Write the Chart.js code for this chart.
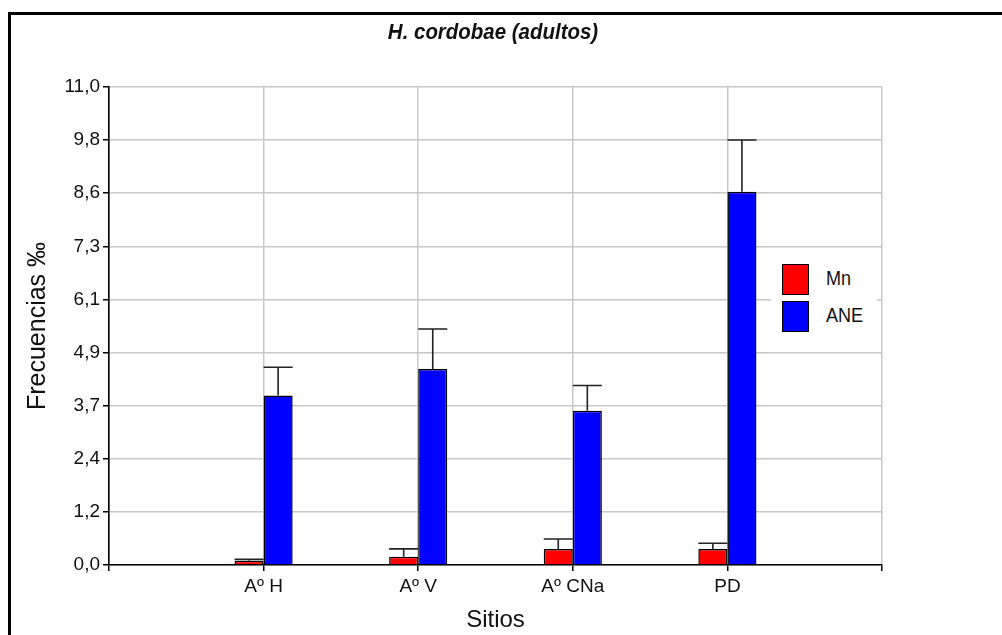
<!DOCTYPE html>
<html>
<head>
<meta charset="utf-8">
<script src="https://cdn.jsdelivr.net/npm/chart.js@4.4.0/dist/chart.umd.min.js"></script>
<style>
  html, body { margin: 0; padding: 0; background: #fff; overflow: hidden; }
  #wrap { position: relative; width: 1002px; height: 635px; overflow: hidden; font-family: 'Liberation Sans', Arial, sans-serif; color: #111; }
  #frame { position: absolute; left: 8px; top: 12px; width: 1100px; height: 700px; border: 3px solid #000; box-sizing: border-box; }
  canvas { position: absolute; left: 0; top: 0; }
  #title { position: absolute; left: 293px; width: 400px; top: 19px; text-align: center; font-size: 22px; font-weight: bold; font-style: italic; white-space: nowrap; transform: scaleX(0.93); transform-origin: 200px 0; }
  #legend { position: absolute; left: 771px; top: 254px; width: 106px; height: 86px; background: #fff; font-size: 21px; }
  .item { position: absolute; left: 11px; height: 30px; }
  .sw { position: absolute; left: 0; top: 0; width: 25px; height: 29px; border: 1px solid #000; }
  .lbl { position: absolute; left: 44px; top: 2px; white-space: nowrap; transform: scaleX(0.86); transform-origin: 0 0; }
</style>
</head>
<body>
<div id="wrap">
  <div id="frame"></div>
  <canvas id="c" width="1002" height="635"></canvas>
  <div id="title"></div>
  <div id="legend"></div>
</div>
<script>
// ---- data ----
const chartTitle = 'H. cordobae (adultos)';
const categories = ['', 'Aº H', 'Aº V', 'Aº CNa', 'PD', ''];
const seriesNames = ['Mn', 'ANE'];
const mnValues  = [null, 0.10, 0.19, 0.37, 0.37, null];
const mnErrors  = [null, 0.03, 0.18, 0.23, 0.13, null];
const aneValues = [null, 3.90, 4.51, 3.55, 8.59, null];
const aneErrors = [null, 0.65, 0.92, 0.58, 1.19, null];
const yTickLabels = ['0,0', '1,2', '2,4', '3,7', '4,9', '6,1', '7,3', '8,6', '9,8', '11,0'];
const yMax = 11;
const seriesColors = ['#ff0000', '#0000ff'];

Chart.defaults.font.family = "'Liberation Sans', Arial, sans-serif";
Chart.defaults.color = '#111';

const errorSets = [mnErrors, aneErrors];
const errorBars = {
  id: 'errorBars',
  afterDatasetsDraw(chart) {
    const ctx = chart.ctx;
    const y = chart.scales.y;
    ctx.save();
    ctx.strokeStyle = '#222';
    ctx.lineWidth = 1.6;
    chart.data.datasets.forEach((ds, i) => {
      const meta = chart.getDatasetMeta(i);
      meta.data.forEach((bar, j) => {
        const v = ds.data[j];
        const e = errorSets[i][j];
        if (v == null || e == null) return;
        const yTop = y.getPixelForValue(v + e);
        const half = bar.width / 2;
        ctx.beginPath();
        ctx.moveTo(bar.x, bar.y);
        ctx.lineTo(bar.x, yTop);
        ctx.moveTo(bar.x - half, yTop);
        ctx.lineTo(bar.x + half, yTop);
        ctx.stroke();
      });
    });
    ctx.restore();
  }
};

new Chart(document.getElementById('c'), {
  type: 'bar',
  data: {
    labels: categories,
    datasets: [
      { label: seriesNames[0], data: mnValues, backgroundColor: seriesColors[0], borderColor: '#000', borderWidth: 1.5 },
      { label: seriesNames[1], data: aneValues, backgroundColor: seriesColors[1], borderColor: '#000', borderWidth: 1.5 }
    ]
  },
  options: {
    responsive: false,
    animation: false,
    events: [],
    categoryPercentage: 0.376,
    barPercentage: 1.0,
    layout: { padding: { left: 23, right: 120, top: 87, bottom: 0 } },
    plugins: {
      legend: { display: false },
      tooltip: { enabled: false },
      title: { display: false }
    },
    scales: {
      x: {
        offset: false,
        grid: { offset: false, color: '#c8c8c8', lineWidth: 1.5, tickColor: '#000', tickLength: 6, drawTicks: true },
        border: { color: '#000', width: 1.6 },
        ticks: { font: { size: 19 }, color: '#111', padding: 4, maxRotation: 0, autoSkip: false },
        title: { display: true, text: 'Sitios', font: { size: 24 }, color: '#111', padding: { top: 0, bottom: 0 } },
        afterFit(s) { s.height = 70; }
      },
      y: {
        min: 0, max: yMax,
        afterBuildTicks(s) {
          s.ticks = yTickLabels.map((_, i) => ({ value: i * yMax / (yTickLabels.length - 1) }));
        },
        ticks: {
          font: { size: 19 }, color: '#111', padding: 3,
          callback(v, i) { return yTickLabels[i]; }
        },
        grid: { color: '#c8c8c8', lineWidth: 1.5, tickColor: '#000', tickLength: 6 },
        border: { color: '#000', width: 1.6 },
        title: { display: true, text: 'Frecuencias ‰', font: { size: 25 }, color: '#111', padding: 0 },
        afterFit(s) { s.width = 86; }
      }
    }
  },
  plugins: [errorBars]
});

document.getElementById('title').textContent = chartTitle;
const leg = document.getElementById('legend');
seriesNames.forEach((n, i) => {
  const it = document.createElement('div');
  it.className = 'item';
  it.style.top = (10 + i * 37) + 'px';
  it.innerHTML = '<div class="sw" style="background:' + seriesColors[i] + '"></div><div class="lbl">' + n + '</div>';
  leg.appendChild(it);
});
</script>
</body>
</html>
